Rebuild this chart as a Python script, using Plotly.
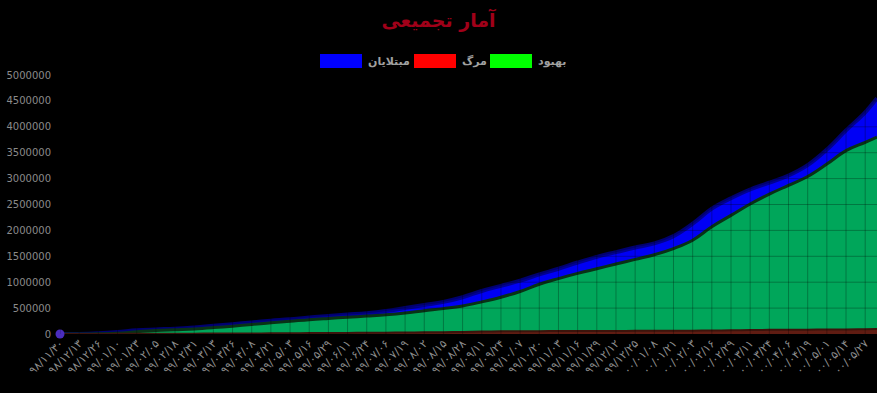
import plotly.graph_objects as go

# ---------------- data ----------------
tick_labels = [
    "۹۸/۱۱/۳۰", "۹۸/۱۲/۱۳", "۹۸/۱۲/۲۶", "۹۹/۰۱/۱۰", "۹۹/۰۱/۲۳", "۹۹/۰۲/۰۵",
    "۹۹/۰۲/۱۸", "۹۹/۰۲/۳۱", "۹۹/۰۳/۱۳", "۹۹/۰۳/۲۶", "۹۹/۰۴/۰۸", "۹۹/۰۴/۲۱",
    "۹۹/۰۵/۰۳", "۹۹/۰۵/۱۶", "۹۹/۰۵/۲۹", "۹۹/۰۶/۱۱", "۹۹/۰۶/۲۴", "۹۹/۰۷/۰۶",
    "۹۹/۰۷/۱۹", "۹۹/۰۸/۰۲", "۹۹/۰۸/۱۵", "۹۹/۰۸/۲۸", "۹۹/۰۹/۱۱", "۹۹/۰۹/۲۴",
    "۹۹/۱۰/۰۷", "۹۹/۱۰/۲۰", "۹۹/۱۱/۰۳", "۹۹/۱۱/۱۶", "۹۹/۱۱/۲۹", "۹۹/۱۲/۱۲",
    "۹۹/۱۲/۲۵", "۰۰/۰۱/۰۸", "۰۰/۰۱/۲۱", "۰۰/۰۲/۰۳", "۰۰/۰۲/۱۶", "۰۰/۰۲/۲۹",
    "۰۰/۰۳/۱۱", "۰۰/۰۳/۲۴", "۰۰/۰۴/۰۶", "۰۰/۰۴/۱۹", "۰۰/۰۵/۰۱", "۰۰/۰۵/۱۴",
    "۰۰/۰۵/۲۷",
]
# day offset of every sample (one every 13 days, plus the last day shown)
days = [13 * i for i in range(43)] + [554]

infected = [
    2, 2336, 14991, 38309, 70029, 88194, 103135, 126949, 157562, 189876,
    222669, 255117, 284034, 320117, 347835, 375212, 402029, 443086, 500075, 560000,
    620000, 710000, 830000, 930000, 1030000, 1150000, 1260000, 1380000, 1490000, 1580000,
    1670000, 1750000, 1890000, 2130000, 2420000, 2620000, 2790000, 2920000, 3060000, 3260000,
    3560000, 3930000, 4280000, 4550000,
]
recovered = [
    0, 435, 4590, 12391, 41947, 66599, 82744, 98808, 123077, 151993,
    183310, 218494, 247230, 277463, 300881, 323233, 346836, 372156, 406000, 450000,
    490000, 540000, 620000, 710000, 820000, 960000, 1070000, 1170000, 1260000, 1350000,
    1440000, 1530000, 1650000, 1810000, 2070000, 2290000, 2510000, 2700000, 2870000, 3040000,
    3280000, 3540000, 3700000, 3800000,
]
deaths = [
    2, 77, 853, 2640, 4357, 5574, 6486, 7183, 7878, 8950,
    10508, 12635, 15074, 17976, 20125, 21571, 23157, 25394, 28544, 32000,
    36000, 41000, 47000, 51000, 53000, 55000, 56000, 57500, 58500, 59500,
    60500, 61300, 62500, 64000, 67500, 72000, 76800, 79700, 81600, 83500,
    86000, 89000, 93000, 97000,
]
y_ticks = [0, 500000, 1000000, 1500000, 2000000, 2500000, 3000000, 3500000,
           4000000, 4500000, 5000000]

series_names = ["مبتلایان", "مرگ", "بهبود"]
title_text = "آمار تجمیعی"

# ---------------- layout helpers ----------------
W, H = 877, 393
L, R, T, B = 60, 0, 75, 59
PW, PH = W - L - R, H - T - B


def px_x(px):
    return (px - L) / PW


def px_y(py):
    return (H - B - py) / PH


FONT = "DejaVu Sans, Noto Sans, sans-serif"
tick_days = days[:len(tick_labels)]
SMOOTH = 1.15

fig = go.Figure()

fig.add_trace(go.Scatter(
    x=days, y=infected, name=series_names[0], mode="lines",
    line=dict(color="rgba(0,0,130,0.85)", width=4, shape="spline", smoothing=SMOOTH),
    fill="tozeroy", fillcolor="rgb(0,0,245)", showlegend=False, hoverinfo="skip",
))
fig.add_trace(go.Scatter(
    x=days, y=recovered, name=series_names[2], mode="lines",
    line=dict(color="rgb(8,50,22)", width=3, shape="spline", smoothing=SMOOTH),
    fill="tozeroy", fillcolor="rgb(0,166,90)", showlegend=False, hoverinfo="skip",
))
fig.add_trace(go.Scatter(
    x=days, y=deaths, name=series_names[1], mode="lines",
    line=dict(color="rgb(60,20,12)", width=2, shape="spline", smoothing=SMOOTH),
    fill="tozeroy", fillcolor="rgb(95,28,18)", showlegend=False, hoverinfo="skip",
))
# first-point marker
fig.add_trace(go.Scatter(
    x=days[:1], y=infected[:1], mode="markers",
    marker=dict(color="rgb(75,45,190)", size=9), cliponaxis=False,
    showlegend=False, hoverinfo="skip",
))

shapes = []
# grid lines (drawn above the fills, dark translucent)
for d in tick_days:
    shapes.append(dict(type="line", xref="x", yref="paper", x0=d, x1=d, y0=0, y1=1,
                       line=dict(color="rgba(0,0,0,0.28)", width=1), layer="above"))
for v in y_ticks[1:]:
    shapes.append(dict(type="line", xref="paper", yref="y", x0=0, x1=1, y0=v, y1=v,
                       line=dict(color="rgba(0,0,0,0.28)", width=1), layer="above"))

# custom legend
legend_items = [
    (series_names[0], "rgb(0,0,255)", 320),
    (series_names[1], "rgb(255,0,0)", 414),
    (series_names[2], "rgb(0,255,0)", 490),
]
annotations = []
for name, col, bx in legend_items:
    shapes.append(dict(type="rect", xref="paper", yref="paper",
                       x0=px_x(bx), x1=px_x(bx + 42), y0=px_y(68), y1=px_y(54),
                       fillcolor=col, line=dict(width=0), layer="above"))
    annotations.append(dict(text="<b>" + name + "</b>", xref="paper", yref="paper",
                            x=px_x(bx + 46), y=px_y(61), xanchor="left", yanchor="middle",
                            showarrow=False, font=dict(family=FONT, size=11, color="#a0a0a0")))

fig.update_layout(
    width=W, height=H,
    margin=dict(l=L, r=R, t=T, b=B),
    paper_bgcolor="black", plot_bgcolor="black",
    title=dict(text="<b>" + title_text + "</b>", x=0.5, xanchor="center",
               y=1 - 20 / H, yanchor="middle",
               font=dict(family=FONT, size=19, color="rgb(160,0,25)")),
    shapes=shapes, annotations=annotations,
    xaxis=dict(range=[0, days[-1]], tickmode="array", tickvals=tick_days,
               ticktext=tick_labels, tickangle=-45,
               showgrid=False, zeroline=False, showline=False, ticks="",
               tickfont=dict(family=FONT, size=11, color="#8c8c8c")),
    yaxis=dict(range=[0, 5000000], tickmode="array", tickvals=y_ticks,
               ticktext=[str(v) for v in y_ticks], showgrid=False, zeroline=False,
               showline=False, ticks="", ticklabelstandoff=8,
               tickfont=dict(family=FONT, size=10, color="#8a8a8a")),
    showlegend=False,
)

fig.write_html("out.html")
